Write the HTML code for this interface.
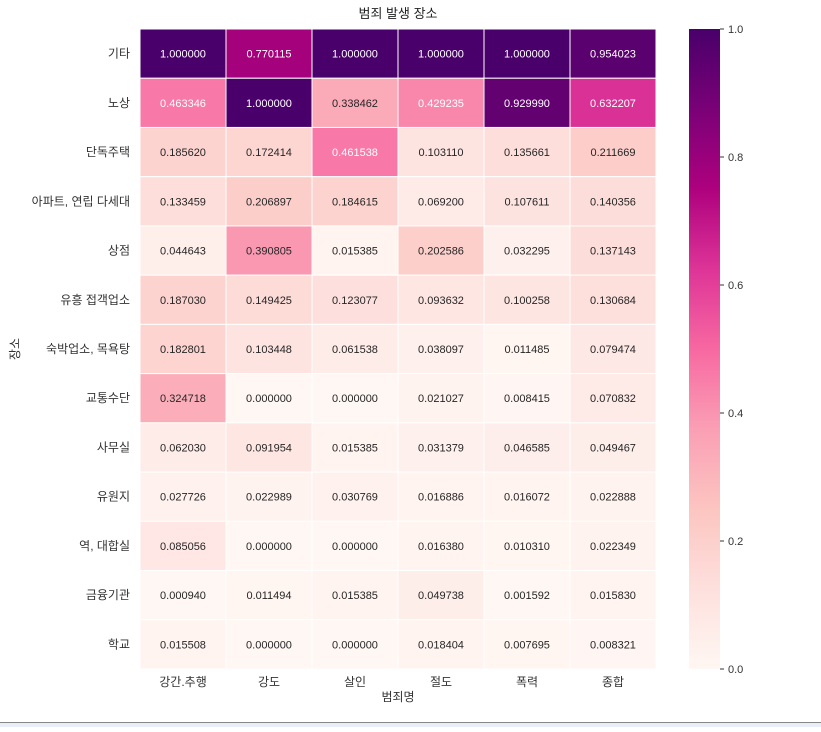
<!DOCTYPE html>
<html><head><meta charset="utf-8"><style>
body{margin:0;background:#fff;width:821px;height:727px;overflow:hidden;font-family:"Liberation Sans","Noto Sans CJK KR",sans-serif;}
</style></head><body>
<svg id="chart" width="821" height="727" xmlns="http://www.w3.org/2000/svg" font-family="Liberation Sans, Noto Sans CJK KR, sans-serif">
<defs><linearGradient id="cbg" x1="0" y1="1" x2="0" y2="0">
<stop offset="0" stop-color="#fff7f3"/><stop offset="0.125" stop-color="#fde0dd"/><stop offset="0.25" stop-color="#fcc5c0"/><stop offset="0.375" stop-color="#fa9fb5"/><stop offset="0.5" stop-color="#f768a1"/><stop offset="0.625" stop-color="#dd3497"/><stop offset="0.75" stop-color="#ae017e"/><stop offset="0.875" stop-color="#7a0177"/><stop offset="1" stop-color="#49006a"/></linearGradient></defs>
<line x1="0" y1="722.5" x2="821" y2="722.5" stroke="#888" stroke-width="1"/>
<rect x="0" y="723" width="821" height="4" fill="#e8eef5"/>
<g id="cells"></g>
<rect x="689" y="29" width="31" height="640" fill="url(#cbg)"/>
<g id="cbticks"></g>
<text x="398" y="18" text-anchor="middle" font-size="13" fill="#222">범죄 발생 장소</text>
<text x="398" y="701" text-anchor="middle" font-size="12" fill="#333">범죄명</text>
<text transform="translate(19,349) rotate(-90)" text-anchor="middle" font-size="12" fill="#333">장소</text>
</svg>
<script>
const cols=["강간.추행","강도","살인","절도","폭력","종합"];
const rows=["기타","노상","단독주택","아파트, 연립 다세대","상점","유흥 접객업소","숙박업소, 목욕탕","교통수단","사무실","유원지","역, 대합실","금융기관","학교"];
const values=[
[1.000000,0.770115,1.000000,1.000000,1.000000,0.954023],
[0.463346,1.000000,0.338462,0.429235,0.929990,0.632207],
[0.185620,0.172414,0.461538,0.103110,0.135661,0.211669],
[0.133459,0.206897,0.184615,0.069200,0.107611,0.140356],
[0.044643,0.390805,0.015385,0.202586,0.032295,0.137143],
[0.187030,0.149425,0.123077,0.093632,0.100258,0.130684],
[0.182801,0.103448,0.061538,0.038097,0.011485,0.079474],
[0.324718,0.000000,0.000000,0.021027,0.008415,0.070832],
[0.062030,0.091954,0.015385,0.031379,0.046585,0.049467],
[0.027726,0.022989,0.030769,0.016886,0.016072,0.022888],
[0.085056,0.000000,0.000000,0.016380,0.010310,0.022349],
[0.000940,0.011494,0.015385,0.049738,0.001592,0.015830],
[0.015508,0.000000,0.000000,0.018404,0.007695,0.008321]];
const cbTicks=[0,0.2,0.4,0.6,0.8,1.0];
const X0=140,X1=656,Y0=29,Y1=669;
const cw=(X1-X0)/cols.length, rh=(Y1-Y0)/rows.length;
const stops=["#fff7f3","#fde0dd","#fcc5c0","#fa9fb5","#f768a1","#dd3497","#ae017e","#7a0177","#49006a"].map(h=>[1,3,5].map(i=>parseInt(h.substr(i,2),16)));
function cmap(v){v=Math.max(0,Math.min(1,v));const t=v*8,i=Math.min(7,Math.floor(t)),f=t-i;const c=stops[i].map((a,k)=>a+(stops[i+1][k]-a)*f);return c;}
function lum(c){const l=c.map(x=>{x/=255;return x<=0.03928?x/12.92:Math.pow((x+0.055)/1.055,2.4)});return 0.2126*l[0]+0.7152*l[1]+0.0722*l[2];}
const NS="http://www.w3.org/2000/svg";
const g=document.getElementById('cells');
function mk(t,a){const e=document.createElementNS(NS,t);for(const k in a)e.setAttribute(k,a[k]);return e;}
rows.forEach((r,i)=>{
 values[i].forEach((v,j)=>{
  const c=cmap(v);
  const rect=mk('rect',{x:X0+j*cw,y:Y0+i*rh,width:cw,height:rh,fill:`rgb(${c.map(Math.round).join(',')})`,stroke:'#fff','stroke-width':1});
  
  
  g.appendChild(rect);
  const t=mk('text',{x:X0+(j+0.5)*cw,y:Y0+(i+0.5)*rh+4,'text-anchor':'middle','font-size':11,fill:lum(c)<0.408?'#fff':'#262626'});
  t.textContent=v.toFixed(6);
  
  
  g.appendChild(t);
 });
 const lt=mk('text',{x:X0-10,y:Y0+(i+0.5)*rh+4,'text-anchor':'end','font-size':12,fill:'#333'});
 lt.textContent=r;
 
 
 g.appendChild(lt);
});
cols.forEach((c,j)=>{
 const t=mk('text',{x:X0+(j+0.5)*cw,y:Y1+17,'text-anchor':'middle','font-size':12,fill:'#333'});
 t.textContent=c;
 
 
 g.appendChild(t);
});
const cb=document.getElementById('cbticks');
cbTicks.forEach(v=>{
 const y=Y1-v*(Y1-Y0);
 const ln=mk('line',{x1:720,x2:724,y1:y,y2:y,stroke:'#333'});
 
 
 cb.appendChild(ln);
 const t=mk('text',{x:728,y:y+4,'font-size':11,fill:'#333'});
 t.textContent=v.toFixed(1);
 
 
 cb.appendChild(t);
});
</script>
</body></html>
